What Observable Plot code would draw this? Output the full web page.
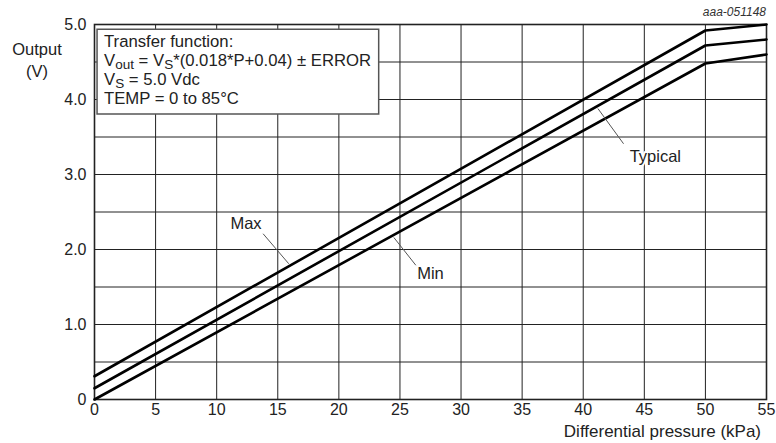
<!DOCTYPE html>
<html>
<head>
<meta charset="utf-8">
<script src="https://cdn.jsdelivr.net/npm/d3@7"></script>
<script src="https://cdn.jsdelivr.net/npm/@observablehq/plot@0.6"></script>
<style>
  html, body { margin: 0; padding: 0; background: #fff; }
  #chart { width: 776px; height: 443px; }
</style>
</head>
<body>
<div id="chart"></div>
<script>
// ---- data ----
const pressure = [0, 50, 55];            // kPa
const maxV     = [0.31, 4.92, 5.00];     // V
const typV     = [0.15, 4.72, 4.80];
const minV     = [0.00, 4.48, 4.60];
const xTicks = [0, 5, 10, 15, 20, 25, 30, 35, 40, 45, 50, 55];
const yTicks = [0, 1, 2, 3, 4, 5];
const yGrid  = [0, 0.5, 1, 1.5, 2, 2.5, 3, 3.5, 4, 4.5, 5];
const seriesNames = ["Max", "Typical", "Min"];
const seriesVals = [maxV, typV, minV];

// labels with leader lines (data coordinates)
const labels = [
  {name: "Max",     x: 12.4, y: 2.35, x1: 13.8, y1: 2.21, x2: 15.9, y2: 1.81},
  {name: "Min",     x: 27.5, y: 1.68, x1: 26.3, y1: 1.79, x2: 24.5, y2: 2.16},
  {name: "Typical", x: 45.9, y: 3.24, x1: 43.3, y1: 3.41, x2: 41.2, y2: 3.88}
];

const rows = [];
seriesNames.forEach((s, i) => pressure.forEach((p, j) => rows.push({series: s, p, v: seriesVals[i][j]})));

const W = 776, H = 443;
const tickFont = "'Liberation Sans Narrow', 'Liberation Sans', Arial, sans-serif";
const textFont = "'Liberation Sans', Arial, sans-serif";

const plot = Plot.plot({
  width: W, height: H,
  marginLeft: 94, marginRight: 10, marginTop: 24, marginBottom: 44,
  style: {fontFamily: tickFont, fontSize: "16px", color: "#222", background: "#fff"},
  x: {domain: [0, 55], label: null},
  y: {domain: [0, 5], label: null},
  marks: [
    Plot.ruleX(xTicks, {stroke: "#222", strokeWidth: 1}),
    Plot.ruleY(yGrid, {stroke: "#222", strokeWidth: 1}),
    Plot.frame({stroke: "#222", strokeWidth: 1.6}),
    Plot.axisX(xTicks, {tickSize: 0, tickPadding: 4, fontSize: 16, fill: "#222", label: null}),
    Plot.axisY(yTicks, {tickSize: 0, tickPadding: 8, fontSize: 16, fill: "#222", label: null,
      tickFormat: d => d === 0 ? "0" : d.toFixed(1)}),
    Plot.line(rows, {x: "p", y: "v", z: "series", stroke: "#000", strokeWidth: 2.6}),
    Plot.link(labels, {x1: "x1", y1: "y1", x2: "x2", y2: "y2", stroke: "#555", strokeWidth: 1}),
    Plot.text(labels, {x: "x", y: "y", text: "name", fontFamily: textFont, fontSize: 16.5, fill: "#222",
      stroke: "#fff", strokeWidth: 4, paintOrder: "stroke"})
  ]
});

document.getElementById("chart").appendChild(plot);

const svg = d3.select(plot);
const xs = plot.scale("x"), ys = plot.scale("y");

// annotation box (in data coordinates)
const bx0 = xs.apply(0.25), bx1 = xs.apply(23.3), by0 = ys.apply(4.93), by1 = ys.apply(3.80);
const g = svg.append("g").attr("font-family", textFont).attr("font-size", 16.7).attr("fill", "#222")
  .attr("text-anchor", "start");
g.append("rect").attr("x", bx0).attr("y", by0).attr("width", bx1 - bx0).attr("height", by1 - by0)
  .attr("fill", "#fff").attr("stroke", "#555").attr("stroke-width", 1.5);
const tx = bx0 + 7;
g.append("text").attr("x", tx).attr("y", by0 + 18).text("Transfer function:");
const l2 = g.append("text").attr("x", tx).attr("y", by0 + 37);
l2.append("tspan").text("V");
l2.append("tspan").attr("dy", 2.5).attr("font-size", 13.5).text("out");
l2.append("tspan").attr("dy", -2.5).text(" = V");
l2.append("tspan").attr("dy", 2.5).attr("font-size", 13.5).text("S");
l2.append("tspan").attr("dy", -2.5).text("*(0.018*P+0.04) \u00B1 ERROR");
const l3 = g.append("text").attr("x", tx).attr("y", by0 + 56);
l3.append("tspan").text("V");
l3.append("tspan").attr("dy", 2.5).attr("font-size", 13.5).text("S");
l3.append("tspan").attr("dy", -2.5).text(" = 5.0 Vdc");
g.append("text").attr("x", tx).attr("y", by0 + 75).text("TEMP = 0 to 85\u00B0C");

// axis titles and id
svg.append("text").attr("x", 37).attr("y", 55).attr("text-anchor", "middle")
  .attr("font-family", textFont).attr("font-size", 16.5).attr("fill", "#222").text("Output");
svg.append("text").attr("x", 37).attr("y", 77).attr("text-anchor", "middle")
  .attr("font-family", textFont).attr("font-size", 16.5).attr("fill", "#222").text("(V)");
svg.append("text").attr("x", 761).attr("y", 437).attr("text-anchor", "end")
  .attr("font-family", tickFont).attr("font-size", 17).attr("fill", "#222").text("Differential pressure (kPa)");
svg.append("text").attr("x", 766).attr("y", 16).attr("text-anchor", "end")
  .attr("font-family", textFont).attr("font-style", "italic").attr("font-size", 12).attr("fill", "#333").text("aaa-051148");
</script>
</body>
</html>
